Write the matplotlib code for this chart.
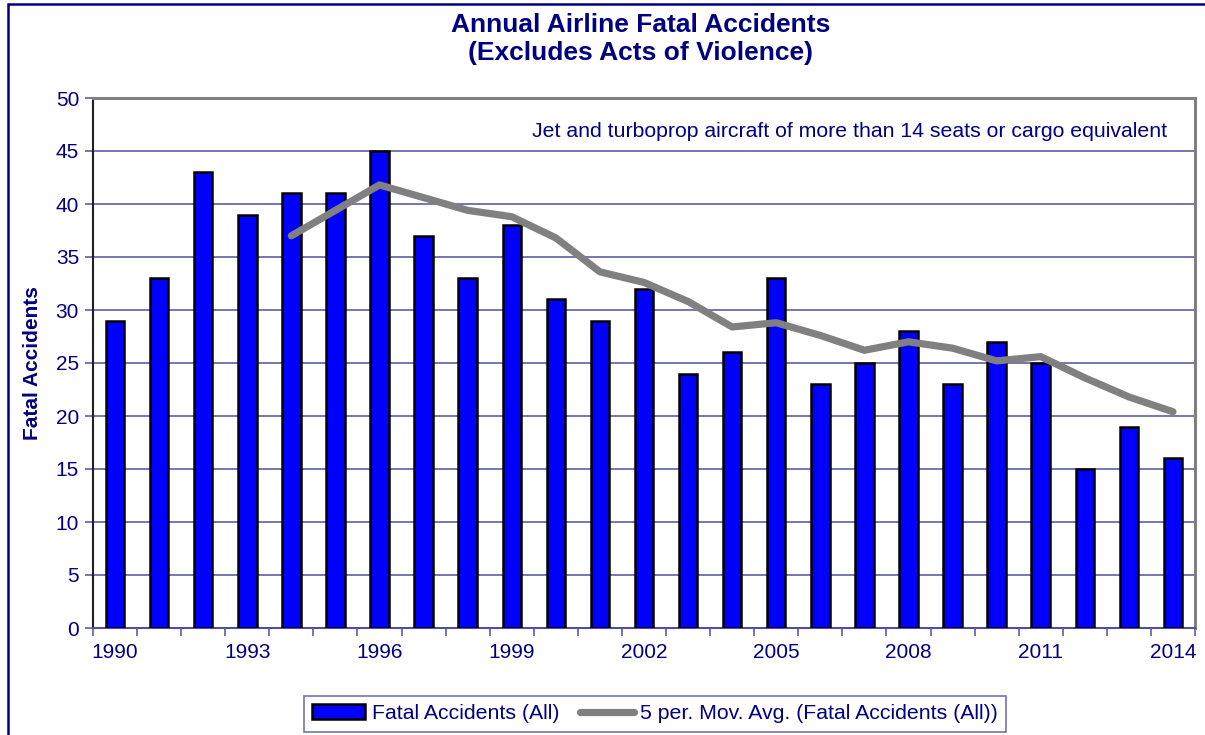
import numpy as np
import matplotlib
matplotlib.use("Agg")
import matplotlib.pyplot as plt
from matplotlib.patches import Rectangle

plt.rcParams['font.family'] = ['Liberation Sans', 'DejaVu Sans']

# Data
years = list(range(1990, 2015))
accidents = [29, 33, 43, 39, 41, 41, 45, 37, 33, 38, 31, 29, 32, 24, 26,
             33, 23, 25, 28, 23, 27, 25, 15, 19, 16]
# 5-period moving average trendline (starts at 1994)
mov_avg_years = list(range(1994, 2015))
mov_avg = [37.0, 39.4, 41.8, 40.6, 39.4, 38.8, 36.8, 33.6, 32.6, 30.8, 28.4,
           28.8, 27.6, 26.2, 27.0, 26.4, 25.2, 25.6, 23.6, 21.8, 20.4]
tick_years = [1990, 1993, 1996, 1999, 2002, 2005, 2008, 2011, 2014]

navy = '#000080'
grid_col = '#5050A0'

fig = plt.figure(figsize=(12.05, 7.35), dpi=100)
ax = fig.add_axes([93 / 1205, 1 - 628 / 735, 1102 / 1205, 530 / 735])

x = np.arange(len(years))
bars = ax.bar(x, accidents, width=0.42, color='#0000FF', edgecolor='black',
              linewidth=1.8, zorder=3, label='Fatal Accidents (All)')
xm = [years.index(y) for y in mov_avg_years]
line, = ax.plot(xm, mov_avg, color='#808080', linewidth=5.2,
                solid_capstyle='round', solid_joinstyle='round', zorder=4,
                label='5 per. Mov. Avg. (Fatal Accidents (All))')

ax.set_xlim(-0.5, len(years) - 0.5)
ax.set_ylim(0, 50)
ax.set_yticks(range(0, 51, 5))
ax.yaxis.grid(True, color=grid_col, linewidth=1.1, zorder=0)

# year labels every 3 years, tick marks between categories
ax.set_xticks([years.index(y) for y in tick_years])
ax.set_xticklabels([str(y) for y in tick_years])
ax.set_xticks(np.arange(-0.5, len(years), 1), minor=True)
ax.tick_params(axis='x', which='major', length=0, pad=11,
               labelsize=15, labelcolor=navy)
ax.tick_params(axis='x', which='minor', length=6, width=1.1, color=grid_col)
ax.tick_params(axis='y', length=6, width=1.1, color=grid_col,
               labelsize=15, labelcolor=navy, pad=4)

ax.spines['left'].set_color('#202020')
ax.spines['left'].set_linewidth(1.5)
ax.spines['bottom'].set_color(grid_col)
ax.spines['bottom'].set_linewidth(1.5)
for s in ['top', 'right']:
    ax.spines[s].set_color('#808080')
    ax.spines[s].set_linewidth(2.2)

ax.set_ylabel('Fatal Accidents', fontsize=15, fontweight='bold',
              color=navy, labelpad=10)

ax.text(0.9746, 0.937, 'Jet and turboprop aircraft of more than 14 seats or cargo equivalent',
        transform=ax.transAxes, ha='right', va='center', fontsize=15.3,
        color=navy)

fig.text(641 / 1205, 1 - 39 / 735,
         'Annual Airline Fatal Accidents\n(Excludes Acts of Violence)',
         ha='center', va='center', fontsize=19, fontweight='bold',
         color=navy, linespacing=1.2)

leg = fig.legend(handles=[bars, line], loc='lower center',
                 bbox_to_anchor=(655 / 1205, -0.01), ncol=2, frameon=True,
                 fancybox=False, fontsize=15.3, labelcolor=navy,
                 handlelength=2.5, handletextpad=0.3, columnspacing=1.0,
                 borderpad=0.4)
leg.get_frame().set_edgecolor(grid_col)
leg.get_frame().set_linewidth(1.2)

# outer chart border (left and top visible)
fig.patches.append(Rectangle((8 / 1205, -0.1), 1.2, 1.1 - 4 / 735,
                             transform=fig.transFigure, fill=False,
                             edgecolor=navy, linewidth=1.8))

fig.savefig('out.png', dpi=100)
